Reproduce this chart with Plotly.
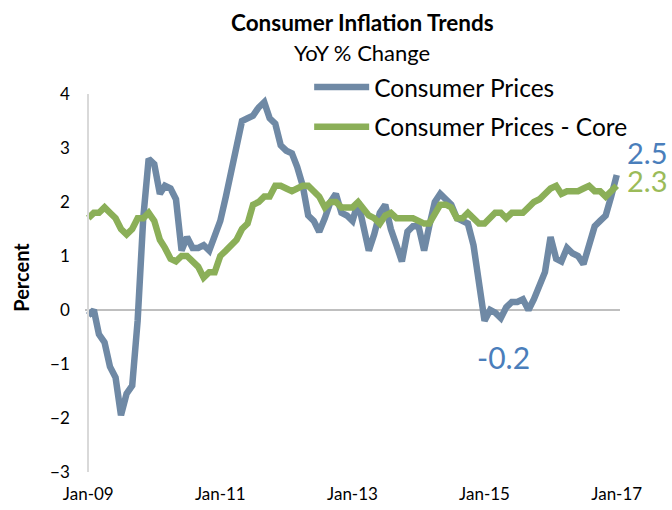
import plotly.graph_objects as go
import pandas as pd

# ---------------- data ----------------
months = pd.date_range("2009-01-01", "2017-01-01", freq="MS")

cpi = [
    # 2009
    -0.1, 0.0, -0.45, -0.6, -1.05, -1.25, -1.95, -1.55, -1.4, -0.2, 1.7, 2.8,
    # 2010
    2.7, 2.15, 2.3, 2.25, 2.05, 1.1, 1.35, 1.15, 1.15, 1.2, 1.1, 1.4,
    # 2011
    1.65, 2.1, 2.55, 3.15, 3.5, 3.55, 3.6, 3.75, 3.85, 3.55, 3.45, 3.05,
    # 2012
    2.95, 2.9, 2.65, 2.3, 1.75, 1.65, 1.45, 1.7, 2.0, 2.15, 1.8, 1.75,
    # 2013
    1.65, 2.0, 1.5, 1.1, 1.4, 1.8, 1.95, 1.5, 1.2, 0.9, 1.45, 1.55,
    # 2014
    1.55, 1.1, 1.55, 2.0, 2.15, 2.05, 1.95, 1.7, 1.65, 1.6, 1.2, 0.6,
    # 2015
    -0.2, 0.0, -0.05, -0.15, 0.05, 0.15, 0.15, 0.2, 0.0, 0.2, 0.5, 0.7,
    # 2016
    1.35, 0.95, 0.9, 1.15, 1.05, 1.0, 0.85, 1.2, 1.55, 1.65, 1.75, 2.1,
    # 2017
    2.5,
]

core = [
    # 2009
    1.7, 1.8, 1.8, 1.9, 1.8, 1.7, 1.5, 1.4, 1.5, 1.7, 1.7, 1.8,
    # 2010
    1.65, 1.3, 1.15, 0.95, 0.9, 1.0, 1.0, 0.9, 0.8, 0.6, 0.7, 0.7,
    # 2011
    1.0, 1.1, 1.2, 1.3, 1.5, 1.6, 1.95, 2.0, 2.1, 2.1, 2.3, 2.3,
    # 2012
    2.25, 2.2, 2.25, 2.3, 2.3, 2.2, 2.1, 1.9, 2.0, 2.0, 1.9, 1.9,
    # 2013
    1.9, 2.0, 1.9, 1.75, 1.7, 1.6, 1.75, 1.8, 1.7, 1.7, 1.7, 1.7,
    # 2014
    1.65, 1.6, 1.6, 1.8, 1.95, 1.95, 1.9, 1.7, 1.7, 1.8, 1.7, 1.6,
    # 2015
    1.6, 1.7, 1.8, 1.8, 1.7, 1.8, 1.8, 1.8, 1.9, 2.0, 2.05, 2.15,
    # 2016
    2.25, 2.3, 2.15, 2.2, 2.2, 2.2, 2.25, 2.3, 2.2, 2.2, 2.1, 2.2,
    # 2017
    2.3,
]

tick_vals = ["2009-01-01", "2011-01-01", "2013-01-01", "2015-01-01", "2017-01-01"]
tick_text = ["Jan-09", "Jan-11", "Jan-13", "Jan-15", "Jan-17"]

series_names = ["Consumer Prices", "Consumer Prices - Core"]
line_colors = ["#6F89A5", "#8BAF58"]
label_colors = ["#4A7EBB", "#9BBB59"]

FONT = "Lato, 'Open Sans', sans-serif"

# ---------------- figure ----------------
fig = go.Figure()
fig.add_trace(go.Scatter(x=months, y=cpi, mode="lines", name=series_names[0],
                         legendgroup="a",
                         line=dict(color=line_colors[0], width=6.5)))
fig.add_trace(go.Scatter(x=months, y=core, mode="lines", name=series_names[1],
                         legendgroup="b",
                         line=dict(color=line_colors[1], width=6.5)))

pad_days = 18
x0 = pd.Timestamp("2009-01-01") - pd.Timedelta(days=pad_days)
x1 = pd.Timestamp("2017-01-01") + pd.Timedelta(days=pad_days)
total_days = (x1 - x0).days
yaxis_pos = pad_days / total_days

fig.update_layout(
    width=672, height=510,
    margin=dict(l=85, r=52, t=94, b=38, autoexpand=False),
    paper_bgcolor="white", plot_bgcolor="white",
    font=dict(family=FONT, color="#000000"),
    showlegend=True,
    legend=dict(x=0.419, y=1.078, xanchor="left", yanchor="top",
                font=dict(size=24.5, family=FONT, color="#000000"),
                bgcolor="rgba(0,0,0,0)", tracegroupgap=5,
                itemwidth=55),
    xaxis=dict(range=[x0, x1], tickvals=tick_vals, ticktext=tick_text,
               automargin=False,
               showgrid=False, showline=False, zeroline=False, ticks="",
               ticklabelstandoff=10,
               tickfont=dict(size=17, family="'Liberation Sans Narrow', 'Arial Narrow', " + FONT,
                             color="#000000")),
    yaxis=dict(range=[-3, 4], dtick=1, tick0=0, showgrid=False,
               anchor="free", position=yaxis_pos, automargin=False,
               showline=True, linecolor="#D9D9D9", linewidth=2,
               zeroline=True, zerolinecolor="#BFBFBF", zerolinewidth=2,
               ticks="", ticklabelstandoff=14,
               tickfont=dict(size=17, family=FONT, color="#000000")),
)

annotations = [
    dict(text="<b>Consumer Inflation Trends</b>", xref="paper", yref="paper",
         x=0.518, y=1.188, xanchor="center", yanchor="middle", showarrow=False,
         font=dict(size=22.5, family=FONT, color="#000000")),
    dict(text="YoY % Change", xref="paper", yref="paper",
         x=0.518, y=1.111, xanchor="center", yanchor="middle", showarrow=False,
         font=dict(size=22, family=FONT, color="#000000")),
    dict(text="<b>Percent</b>", xref="paper", yref="paper", textangle=-90,
         x=-0.12, y=0.516, xanchor="center", yanchor="middle", showarrow=False,
         font=dict(size=20, family=FONT, color="#000000")),
    dict(text=f"{cpi[-1]:.1f}", x=months[-1], y=cpi[-1], xref="x", yref="y",
         xanchor="left", yanchor="middle", xshift=8, yshift=23, showarrow=False,
         font=dict(size=29, family=FONT, color=label_colors[0])),
    dict(text=f"{core[-1]:.1f}", x=months[-1], y=core[-1], xref="x", yref="y",
         xanchor="left", yanchor="middle", xshift=8, yshift=5, showarrow=False,
         font=dict(size=29, family=FONT, color=label_colors[1])),
]
imin = 72  # Jan-15 low point
annotations.append(
    dict(text=f"{cpi[imin]:.1f}", x=months[imin], y=cpi[imin], xref="x", yref="y",
         xanchor="center", yanchor="middle", xshift=19, yshift=-36, showarrow=False,
         font=dict(size=30, family=FONT, color=label_colors[0]))
)
fig.update_layout(annotations=annotations)

fig.write_html("out.html", config={"displayModeBar": False},
               post_script="document.body.style.margin='0';document.body.style.overflow='hidden';")
